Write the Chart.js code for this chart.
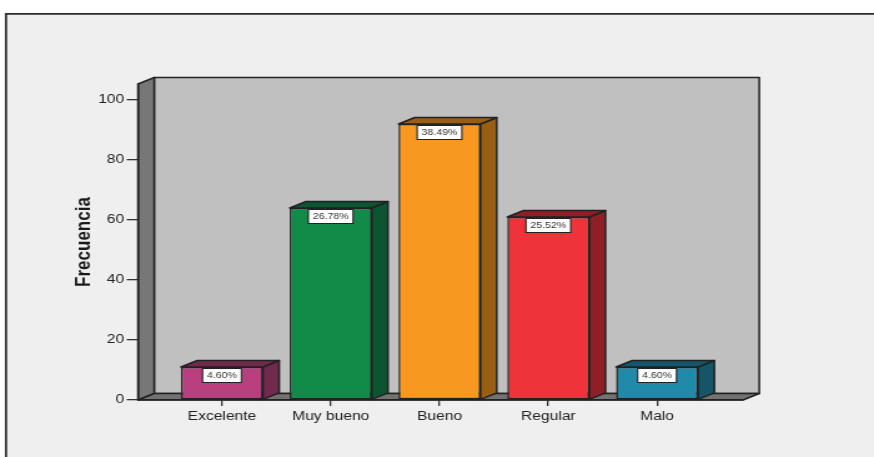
<!DOCTYPE html>
<html>
<head>
<meta charset="utf-8">
<title>Frecuencia</title>
<script src="https://cdn.jsdelivr.net/npm/chart.js@4.4.0/dist/chart.umd.min.js"></script>
<style>
  html, body { margin: 0; padding: 0; background: #fff; }
</style>
</head>
<body>
<!-- el lienzo se dibuja a 700px y se estira a 874px de ancho -->
<canvas id="grafico" width="700" height="457" style="display:block;width:874px;height:457px"></canvas>
<script>
const categorias = ['Excelente', 'Muy bueno', 'Bueno', 'Regular', 'Malo'];
const frecuencias = [11, 64, 92, 61, 11];
const ticksY = [0, 20, 40, 60, 80, 100];

const coloresFrente = ['#b9407e', '#128b49', '#f7991e', '#ef333b', '#2189aa'];
const coloresLado = ['#6f2a4d', '#0b5531', '#9a5e13', '#8e1f25', '#155569'];

const total = frecuencias.reduce((a, b) => a + b, 0);
const porcentajes = frecuencias.map(v => (v / total * 100).toFixed(2) + '%');

const FUENTE = '"Liberation Sans", Arial, sans-serif';
const LINEA = '#222';
const GROSOR = 1.5;
// desplazamiento de la profundidad 3D
const PROF_X = 13;
const PROF_Y = -6.5;

function poligono(ctx, pts, relleno) {
  ctx.beginPath();
  ctx.moveTo(pts[0][0], pts[0][1]);
  for (let i = 1; i < pts.length; i++) ctx.lineTo(pts[i][0], pts[i][1]);
  ctx.closePath();
  ctx.fillStyle = relleno;
  ctx.fill();
  ctx.stroke();
}

// marco, paredes y suelo del grafico
const fondo3D = {
  id: 'fondo3D',
  beforeDraw(chart) {
    const { ctx, chartArea: a, width, height } = chart;
    ctx.save();
    ctx.fillStyle = '#fff';
    ctx.fillRect(0, 0, width, height);
    ctx.fillStyle = '#efefef';
    ctx.fillRect(4, 13, width, height);
    ctx.strokeStyle = '#2b2b2b';
    ctx.lineWidth = 1.8;
    ctx.beginPath();
    ctx.moveTo(4.8, height);
    ctx.lineTo(4.8, 13.9);
    ctx.lineTo(width, 13.9);
    ctx.stroke();

    ctx.strokeStyle = LINEA;
    ctx.lineWidth = GROSOR;
    ctx.lineJoin = 'round';
    poligono(ctx, [
      [a.left + PROF_X, a.top + PROF_Y], [a.right + PROF_X, a.top + PROF_Y],
      [a.right + PROF_X, a.bottom + PROF_Y], [a.left + PROF_X, a.bottom + PROF_Y]
    ], '#c0c0c0');
    poligono(ctx, [
      [a.left, a.top], [a.left + PROF_X, a.top + PROF_Y],
      [a.left + PROF_X, a.bottom + PROF_Y], [a.left, a.bottom]
    ], '#777777');
    poligono(ctx, [
      [a.left, a.bottom], [a.left + PROF_X, a.bottom + PROF_Y],
      [a.right + PROF_X, a.bottom + PROF_Y], [a.right, a.bottom]
    ], '#727272');
    ctx.restore();
  }
};

// caras lateral y superior de cada barra, mas la etiqueta de porcentaje
const barras3D = {
  id: 'barras3D',
  afterDatasetsDraw(chart) {
    const { ctx } = chart;
    const meta = chart.getDatasetMeta(0);
    ctx.save();
    ctx.strokeStyle = LINEA;
    ctx.lineJoin = 'round';
    meta.data.forEach((bar, i) => {
      const { x, y, base, width } = bar.getProps(['x', 'y', 'base', 'width'], true);
      const izq = x - width / 2;
      const der = x + width / 2;
      ctx.lineWidth = GROSOR;
      poligono(ctx, [[der, y], [der + PROF_X, y + PROF_Y], [der + PROF_X, base + PROF_Y], [der, base]], coloresLado[i]);
      poligono(ctx, [[izq, y], [izq + PROF_X, y + PROF_Y], [der + PROF_X, y + PROF_Y], [der, y]], coloresLado[i]);

      ctx.font = '8.5px ' + FUENTE;
      const texto = porcentajes[i];
      const ancho = ctx.measureText(texto).width + 7;
      const alto = 14;
      const top = y + 1.5;
      ctx.fillStyle = '#fff';
      ctx.fillRect(x - ancho / 2, top, ancho, alto);
      ctx.lineWidth = 1.1;
      ctx.strokeRect(x - ancho / 2, top, ancho, alto);
      ctx.fillStyle = '#333';
      ctx.textAlign = 'center';
      ctx.textBaseline = 'middle';
      ctx.fillText(texto, x, top + alto / 2 + 0.5);
    });
    ctx.restore();
  }
};

const ctx = document.getElementById('grafico').getContext('2d');
const chart = new Chart(ctx, {
  type: 'bar',
  data: {
    datasets: [{
      data: categorias.map((c, i) => ({ x: i, y: frecuencias[i] })),
      backgroundColor: coloresFrente,
      borderColor: LINEA,
      borderWidth: GROSOR,
      borderSkipped: false,
      barPercentage: 0.754,
      categoryPercentage: 1
    }]
  },
  options: {
    responsive: false,
    animation: false,
    events: [],
    layout: { padding: { left: 0, top: 84, right: 104.9, bottom: 0 } },
    plugins: { legend: { display: false }, tooltip: { enabled: false } },
    scales: {
      x: {
        type: 'linear',
        min: -0.772,
        max: 4.79,
        offset: false,
        afterBuildTicks: scale => { scale.ticks = categorias.map((c, i) => ({ value: i })); },
        afterFit: scale => { scale.height = 57; },
        grid: { offset: false, drawOnChartArea: false, drawTicks: true, tickLength: 6, color: '#333', lineWidth: 1.3 },
        border: { display: true, color: LINEA, width: GROSOR },
        ticks: {
          autoSkip: false,
          maxRotation: 0,
          padding: 3,
          color: '#222',
          font: { family: FUENTE, size: 12.5 },
          callback: v => categorias[v]
        }
      },
      y: {
        min: 0,
        max: 105.33,
        afterBuildTicks: scale => { scale.ticks = ticksY.map(v => ({ value: v })); },
        afterFit: scale => { scale.width = 110.5; },
        grid: { drawOnChartArea: false, drawTicks: true, tickLength: 9, color: '#333', lineWidth: 1.3 },
        border: { display: true, color: LINEA, width: GROSOR },
        ticks: { padding: 2, color: '#222', font: { family: FUENTE, size: 12.5 } },
        title: {
          display: true,
          text: 'Frecuencia',
          color: '#1a1a1a',
          font: { family: FUENTE, size: 17, weight: 'bold' },
          padding: { top: 57, bottom: 0 }
        }
      }
    }
  },
  plugins: [fondo3D, barras3D]
});
</script>
</body>
</html>
